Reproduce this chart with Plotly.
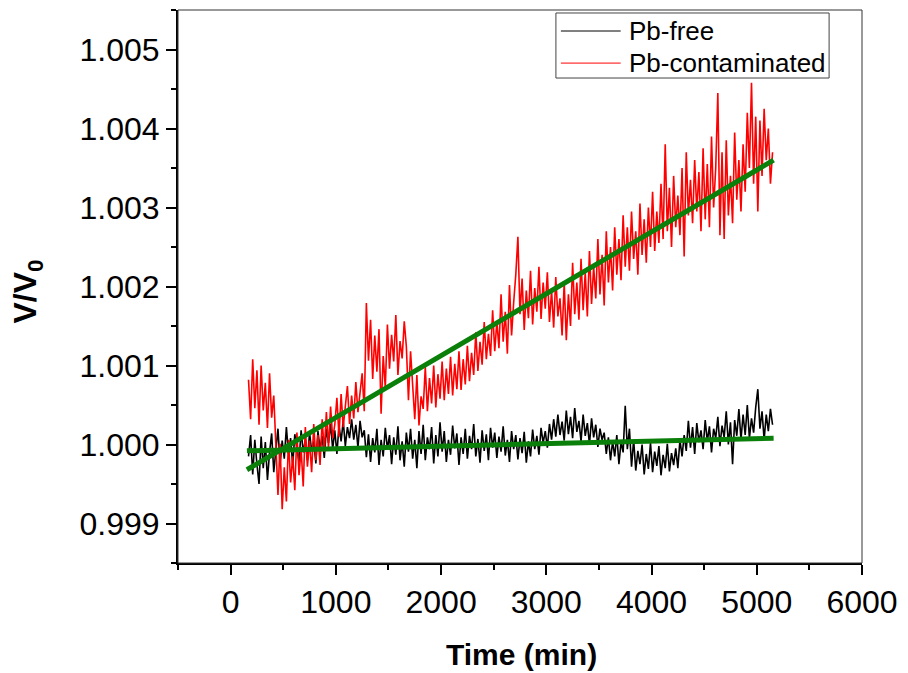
import plotly.graph_objects as go

# Sampling times (min), one reading every 20 min
t_start, t_step = 170, 20

# Normalised voltage V/V0, stored as deviation from 1 in parts per million
pb_free_ppm = [
    -150, 120, -380, 60, -250, -500, 100, -300, 30, -450,
    -100, 140, -350, -50, 200, -250, 50, -180, 220, -120,
    80, -260, 130, -50, -220, 180, -100, 60, -200, 150,
    -80, 40, -240, 170, -60, 110, -170, 200, 20, 260,
    -60, 180, -120, 240, 40, 300, -20, 220, 80, 320,
    60, 250, -40, 300, 90, 180, -160, 130, -220, 80,
    -100, 200, -260, 60, -150, 210, -60, 120, -250, 90,
    -130, 230, -200, 40, -280, 150, -90, 200, -180, 60,
    -300, 170, -120, 250, -200, 90, -60, 220, -240, 120,
    -150, 280, -90, 170, -220, 60, -130, 240, -50, 140,
    -260, 90, -120, 200, -180, 110, -60, 260, -150, 70,
    -230, 180, -80, 130, -200, 210, -40, 150, -170, 100,
    -90, 230, -140, 60, -220, 170, -60, 120, -190, 80,
    -110, 160, -230, 40, -150, 190, -60, 110, -130, 210,
    20, 170, -40, 260, 60, 320, 100, 380, 120, 290,
    50, 430, 130, 350, 80, 460, 160, 300, 40, 380,
    110, 270, 0, 330, 90, 250, -30, 200, 60, 150,
    -120, 90, -200, 40, -150, 120, -250, 30, -100, 490,
    -60, 200, -280, 60, -330, -80, -250, 0, -380, -120,
    -310, 20, -350, -90, -270, -20, -390, -130, -300, 10,
    -340, -110, -260, -50, -300, 60, -150, 120, -80, 300,
    -40, 220, -120, 270, 30, 180, -60, 310, 40, 230,
    -100, 200, 80, 350, -20, 240, 90, 420, 0, 280,
    -250, 310, 110, 450, 60, 380, 120, 500, 80, 330,
    150, 470, 700, 200, 420, 60, 380, 170, 450, 250,
]

pb_contaminated_ppm = [
    820, 320, 1080, 460, 940, 250, 1000, 430, 780, 210,
    900, 340, 620, -80, -640, 10, -820, -290, -720, 60,
    -480, -150, -580, 150, -390, -60, -530, 220, -280, 50,
    -350, 260, -200, 120, -260, 320, -90, 410, -40, 480,
    80, 250, 590, 100, 640, 220, 510, 740, 260, 620,
    330, 790, 410, 680, 900, 420, 1790, 1060, 1580, 830,
    1380, 920, 1460, 390, 1120, 720, 1520, 960, 1390, 1050,
    1640, 880, 1310, 1090, 1560, 1240, 560, 1180, 720, 320,
    880, 240, 610, 450, 980, 420, 840, 520, 1000, 470,
    890, 580, 1050, 560, 960, 640, 1110, 620, 1020, 700,
    1180, 690, 1080, 760, 1250, 800, 1160, 880, 1420, 930,
    1300, 1010, 1550, 1080, 1400, 1120, 1700, 1180, 1560, 1220,
    1900, 1300, 1680, 1150, 2020, 1380, 1800, 2150, 2630, 1650,
    2100, 1450, 1950, 1600, 2200, 1520, 1980, 1680, 2250, 1590,
    2050, 1720, 2180, 1550, 1950, 1480, 2120, 1620, 1850, 1380,
    2050, 1320, 1900, 1500, 2300, 1650, 2050, 1580, 2350, 1700,
    2180, 1620, 2450, 1780, 2250, 1850, 2600, 1900, 2400, 1760,
    2700, 2050, 2500, 1950, 2750, 2150, 2600, 2080, 2900, 2250,
    2750, 2200, 2950, 2350, 2700, 2150, 3050, 2400, 2850, 2300,
    3000, 2500, 3200, 2450, 2950, 2550, 3300, 2600, 3800, 2700,
    3250, 2500, 3400, 2750, 3150, 2650, 3500, 2380, 3700, 2900,
    3350, 2800, 3600, 2950, 3450, 2700, 3750, 2850, 3550, 2750,
    3900, 3000, 3500, 4450, 2650, 3700, 2600, 3850, 2900, 3400,
    2800, 3950, 3100, 3600, 2950, 3800, 3200, 4200, 3500, 4580,
    3300, 4150, 2950, 4100, 3400, 4250, 3600, 4000, 3300, 3700,
]

# Linear fits: end points (time, V/V0)
fit_time = [155, 5160]
fit_pb_free = [0.99992, 1.00008]
fit_pb_contaminated = [0.99968, 1.00360]

series_names = ["Pb-free", "Pb-contaminated"]
series_colors = ["black", "#ff0000"]
fit_color = "#0a7f0a"
font_family = "Arial, Liberation Sans, sans-serif"

times = [t_start + i * t_step for i in range(len(pb_free_ppm))]
v_free = [1 + p * 1e-6 for p in pb_free_ppm]
v_cont = [1 + p * 1e-6 for p in pb_contaminated_ppm]

fig = go.Figure()
for name, color, values in zip(series_names, series_colors, [v_free, v_cont]):
    fig.add_trace(go.Scatter(x=times, y=values, mode="lines", name=name, showlegend=False,
                             line=dict(color=color, width=1.6)))
for fit_values in [fit_pb_free, fit_pb_contaminated]:
    fig.add_trace(go.Scatter(x=fit_time, y=fit_values, mode="lines", showlegend=False,
                             line=dict(color=fit_color, width=5)))

tick_font = dict(family=font_family, size=32, color="black")

fig.update_xaxes(
    range=[-500, 6000], tickmode="linear", tick0=0, dtick=1000,
    ticks="outside", ticklen=10, tickwidth=1.5, tickcolor="black",
    minor=dict(ticks="outside", dtick=500, ticklen=5, tickwidth=1.5, tickcolor="black"),
    showline=True, linewidth=2, linecolor="black", showgrid=False, zeroline=False,
    tickfont=tick_font,
)
fig.update_yaxes(
    range=[0.9985, 1.0055], tickmode="linear", tick0=0.999, dtick=0.001, tickformat=".3f",
    ticks="outside", ticklen=10, tickwidth=1.5, tickcolor="black",
    minor=dict(ticks="outside", dtick=0.0005, ticklen=5, tickwidth=1.5, tickcolor="black"),
    showline=True, linewidth=2, linecolor="black", showgrid=False, zeroline=False,
    tickfont=tick_font,
)

# Thin frame on the top and right sides
shapes = [dict(type="rect", xref="paper", yref="paper", x0=0, y0=0, x1=1, y1=1,
               line=dict(color="#333", width=1), layer="above")]

# Boxed legend in the upper right corner
legend_box = dict(x0=0.5525, x1=0.9519, y0=0.877, y1=0.9946)
legend_rows_y = [0.9620, 0.9040]
shapes.append(dict(type="rect", xref="paper", yref="paper", **legend_box,
                   line=dict(color="#444", width=1), fillcolor="white", layer="above"))
annotations = []
for name, color, row_y in zip(series_names, series_colors, legend_rows_y):
    shapes.append(dict(type="line", xref="paper", yref="paper", x0=0.5598, x1=0.6472,
                       y0=row_y, y1=row_y, line=dict(color=color, width=1), layer="above"))
    annotations.append(dict(text=name, xref="paper", yref="paper", x=0.6560, y=row_y,
                            xanchor="left", yanchor="middle", showarrow=False,
                            font=dict(family=font_family, size=26, color="black")))

annotations += [
    dict(text="<b>Time (min)</b>", xref="paper", yref="paper", x=0.5015, y=-0.166,
         xanchor="center", yanchor="middle", showarrow=False,
         font=dict(family=font_family, size=30, color="black")),
    dict(text="<b>V/V<sub>0</sub></b>", xref="paper", yref="paper", x=-0.22, y=0.49,
         xanchor="center", yanchor="middle", textangle=-90, showarrow=False,
         font=dict(family=font_family, size=32, color="black")),
]

fig.update_layout(
    width=908, height=673,
    margin=dict(l=178, r=44, t=10, b=110),
    paper_bgcolor="white", plot_bgcolor="white",
    showlegend=False,
    shapes=shapes,
    annotations=annotations,
)

fig.write_html("out.html")
